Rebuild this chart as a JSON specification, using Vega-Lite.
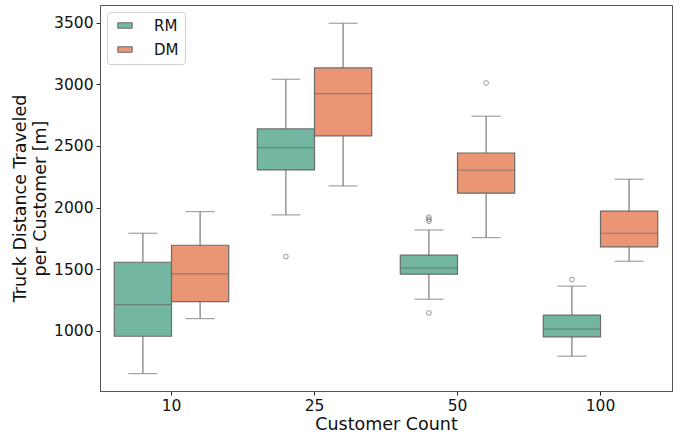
{
  "$schema": "https://vega.github.io/schema/vega-lite/v6.json",
  "width": 572,
  "height": 386,
  "autosize": {"type": "none"},
  "padding": {"left": 100, "top": 5, "right": 12, "bottom": 43},
  "background": "white",
  "config": {
    "font": "DejaVu Sans",
    "view": {"stroke": "#555", "strokeWidth": 1},
    "axis": {"labelFont": "DejaVu Sans", "titleFont": "DejaVu Sans", "labelFontSize": 15.5, "titleFontSize": 17.5, "titleFontWeight": "normal", "labelColor": "#111", "titleColor": "#111", "domainColor": "#555", "tickColor": "#222", "tickSize": 4, "grid": false, "labelPadding": 3}
  },
  "datasets": {
    "boxes": [
      {"count": "10", "method": "RM", "lower": 654, "q1": 957, "median": 1214, "q3": 1557, "upper": 1792},
      {"count": "10", "method": "DM", "lower": 1100, "q1": 1238, "median": 1462, "q3": 1695, "upper": 1968},
      {"count": "25", "method": "RM", "lower": 1941, "q1": 2306, "median": 2486, "q3": 2638, "upper": 3041},
      {"count": "25", "method": "DM", "lower": 2176, "q1": 2581, "median": 2924, "q3": 3133, "upper": 3495},
      {"count": "50", "method": "RM", "lower": 1257, "q1": 1460, "median": 1511, "q3": 1614, "upper": 1819},
      {"count": "50", "method": "DM", "lower": 1757, "q1": 2117, "median": 2303, "q3": 2443, "upper": 2741},
      {"count": "100", "method": "RM", "lower": 795, "q1": 952, "median": 1014, "q3": 1128, "upper": 1363},
      {"count": "100", "method": "DM", "lower": 1565, "q1": 1681, "median": 1792, "q3": 1971, "upper": 2230}
    ],
    "outliers": [
      {"count": "25", "method": "RM", "value": 1603},
      {"count": "50", "method": "RM", "value": 1922},
      {"count": "50", "method": "RM", "value": 1906},
      {"count": "50", "method": "RM", "value": 1890},
      {"count": "50", "method": "RM", "value": 1146},
      {"count": "50", "method": "DM", "value": 3011},
      {"count": "100", "method": "RM", "value": 1416}
    ]
  },
  "encoding": {
    "x": {"field": "count", "type": "nominal", "sort": ["10", "25", "50", "100"], "scale": {"paddingInner": 0, "paddingOuter": 0}, "axis": {"title": "Customer Count", "labelAngle": 0, "titlePadding": 2}},
    "xOffset": {"field": "method", "type": "nominal", "sort": ["RM", "DM"], "scale": {"paddingInner": 0, "paddingOuter": 0.25}}
  },
  "layer": [
    {
      "data": {"name": "boxes"},
      "mark": {"type": "rule", "color": "#7a7a7a", "strokeWidth": 1.2},
      "encoding": {
        "y": {"field": "lower", "type": "quantitative", "scale": {"domain": [513, 3643], "nice": false, "zero": false}, "axis": {"values": [1000, 1500, 2000, 2500, 3000, 3500], "format": "d", "title": ["Truck Distance Traveled", "per Customer [m]"], "titlePadding": 4, "titleLineHeight": 20.5}},
        "y2": {"field": "upper"}
      }
    },
    {
      "data": {"name": "boxes"},
      "mark": {"type": "tick", "color": "#7a7a7a", "size": 29, "thickness": 1.2},
      "encoding": {"y": {"field": "lower", "type": "quantitative"}}
    },
    {
      "data": {"name": "boxes"},
      "mark": {"type": "tick", "color": "#7a7a7a", "size": 29, "thickness": 1.2},
      "encoding": {"y": {"field": "upper", "type": "quantitative"}}
    },
    {
      "data": {"name": "boxes"},
      "mark": {"type": "bar", "stroke": "#6b6b6b", "strokeWidth": 1.2, "opacity": 1},
      "encoding": {
        "y": {"field": "q1", "type": "quantitative"},
        "y2": {"field": "q3"},
        "color": {"field": "method", "type": "nominal", "sort": ["RM", "DM"], "scale": {"domain": ["RM", "DM"], "range": ["#73b7a2", "#ea9675"]},
          "legend": {"title": null, "orient": "top-left", "offset": 7, "padding": 6, "fillColor": "white", "strokeColor": "#d0d0d0", "cornerRadius": 3, "labelFontSize": 15, "labelFont": "DejaVu Sans", "labelColor": "#111", "symbolType": "M-0.5,-0.5H2.136V0.5H-0.5Z", "symbolSize": 121, "symbolStrokeColor": "#6b6b6b", "symbolStrokeWidth": 1, "symbolOpacity": 1, "rowPadding": 8, "labelOffset": 26}}
      }
    },
    {
      "data": {"name": "boxes"},
      "mark": {"type": "tick", "color": "#6b6b6b", "size": 57, "thickness": 1.2},
      "encoding": {"y": {"field": "median", "type": "quantitative"}}
    },
    {
      "data": {"name": "outliers"},
      "mark": {"type": "point", "shape": "circle", "filled": false, "color": "#6b6b6b", "size": 22, "strokeWidth": 1},
      "encoding": {"y": {"field": "value", "type": "quantitative"}}
    }
  ]
}
